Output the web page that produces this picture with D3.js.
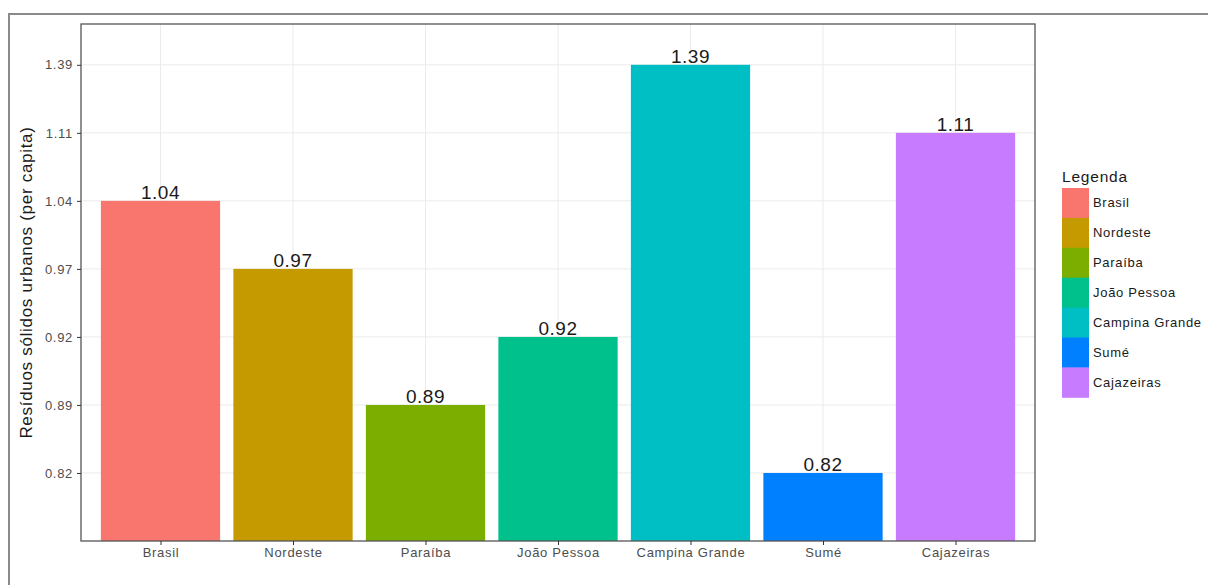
<!DOCTYPE html>
<html><head><meta charset="utf-8">
<script src="https://cdn.jsdelivr.net/npm/d3@7"></script>
<style>body{margin:0;background:#fff;} svg{display:block;font-family:"Liberation Sans",Arial,sans-serif;}</style>
</head><body>
<svg id="c" width="1208" height="585"></svg>
<script>
const categories = ["Brasil","Nordeste","Paraíba","João Pessoa","Campina Grande","Sumé","Cajazeiras"];
const values = [1.04, 0.97, 0.89, 0.92, 1.39, 0.82, 1.11];
const labels = ["1.04","0.97","0.89","0.92","1.39","0.82","1.11"];
const yLevels = ["0.82","0.89","0.92","0.97","1.04","1.11","1.39"];
const colors = ["#F8766D","#C49A00","#7CAE00","#00C08B","#00BFC4","#0080FF","#C77CFF"];

const svg = d3.select("#c");
// outer frame (partially cropped)
svg.append("path").attr("d","M9,600 L9,14 L1220,14").attr("fill","none").attr("stroke","#8a8a8a").attr("stroke-width",2);

const L=81, R=1035, T=24, B=541;
const x = d3.scalePoint().domain(categories).range([L + (R-L)*0.6/7.2, R - (R-L)*0.6/7.2]);
const step = x.step();
const yi = d3.scaleLinear().domain([0, 7.6]).range([B, T]);
const yPos = v => yi(yLevels.indexOf(v) + 1);

const g = svg.append("g");
g.selectAll(".gx").data(categories).enter().append("line")
 .attr("x1",d=>x(d)).attr("x2",d=>x(d)).attr("y1",T).attr("y2",B)
 .attr("stroke","#EBEBEB").attr("stroke-width",1);
g.selectAll(".gy").data(yLevels).enter().append("line")
 .attr("x1",L).attr("x2",R).attr("y1",d=>yPos(d)).attr("y2",d=>yPos(d))
 .attr("stroke","#EBEBEB").attr("stroke-width",1);

const bw = step*0.9;
g.selectAll(".bar").data(categories).enter().append("rect")
 .attr("x",d=>x(d)-bw/2).attr("width",bw)
 .attr("y",(d,i)=>yPos(labels[i])).attr("height",(d,i)=>B - yPos(labels[i]))
 .attr("fill",(d,i)=>colors[i]);

g.selectAll(".lab").data(categories).enter().append("text")
 .attr("x",d=>x(d)).attr("y",(d,i)=>yPos(labels[i]) - 2)
 .attr("text-anchor","middle").attr("font-size",19).attr("letter-spacing",0.5).attr("fill","#1a1a1a")
 .text((d,i)=>labels[i]);

svg.append("rect").attr("x",L).attr("y",T).attr("width",R-L).attr("height",B-T)
 .attr("fill","none").attr("stroke","#555").attr("stroke-width",1.3);

const xAxis = svg.append("g").attr("transform",`translate(0,${B})`)
 .call(d3.axisBottom(x).tickSize(4).tickPadding(3));
xAxis.select(".domain").remove();
xAxis.selectAll("line").attr("stroke","#333");
xAxis.selectAll("text").attr("font-size",13).attr("letter-spacing",0.7).attr("fill","#4D4D4D").attr("font-family","Liberation Sans, Arial, sans-serif");

const yAxisScale = d3.scalePoint().domain(yLevels).range([yPos("0.82"), yPos("1.39")]);
const yAxis = svg.append("g").attr("transform",`translate(${L},0)`)
 .call(d3.axisLeft(yAxisScale).tickSize(4).tickPadding(4));
yAxis.select(".domain").remove();
yAxis.selectAll("line").attr("stroke","#333");
yAxis.selectAll("text").attr("font-size",13).attr("letter-spacing",0.7).attr("fill","#4D4D4D").attr("font-family","Liberation Sans, Arial, sans-serif");

svg.append("text").attr("transform",`translate(32,${(T+B)/2}) rotate(-90)`)
 .attr("text-anchor","middle").attr("font-size",17).attr("letter-spacing",0.7).attr("fill","#1a1a1a")
 .text("Resíduos sólidos urbanos (per capita)");

const lg = svg.append("g").attr("transform","translate(1062,0)");
lg.append("text").attr("x",0).attr("y",182).attr("font-size",15.5).attr("letter-spacing",0.8).attr("fill","#1a1a1a").text("Legenda");
const kh = 29.9;
lg.selectAll(".k").data(categories).enter().append("rect")
 .attr("x",0).attr("y",(d,i)=>188 + i*kh).attr("width",27).attr("height",kh+0.5)
 .attr("fill",(d,i)=>colors[i]);
lg.selectAll(".kt").data(categories).enter().append("text")
 .attr("x",31).attr("y",(d,i)=>188 + i*kh + kh/2 + 4.5)
 .attr("font-size",13).attr("letter-spacing",0.7).attr("fill","#1a1a1a").text(d=>d);
</script>
</body></html>
